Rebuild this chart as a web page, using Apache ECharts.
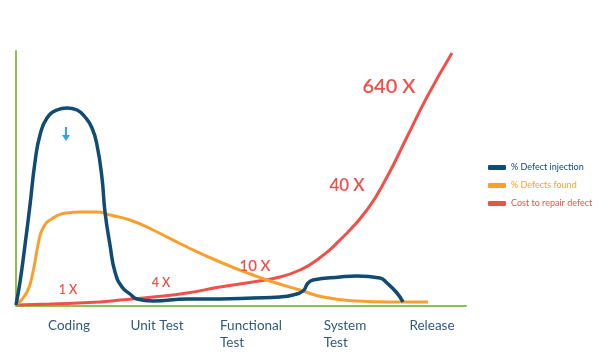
<!DOCTYPE html>
<html>
<head>
<meta charset="utf-8">
<script src="https://cdn.jsdelivr.net/npm/echarts@6/dist/echarts.min.js"></script>
<style>
  html, body { margin: 0; padding: 0; background: #fff; }
  #chart { width: 611px; height: 353px; }
</style>
</head>
<body>
<div id="chart"></div>
<script>
// 阶段名称和位置
var categories = ['Coding', 'Unit Test', 'Functional\nTest', 'System\nTest', 'Release'];
var categoryPos = [53, 141, 235, 329, 416];

// 曲线数据 [x, y]
var defectInjection = [
  [0, 1], [4, 24], [9, 61], [14, 101], [19, 144], [24, 171], [31, 188], [41, 196],
  [51, 198], [61, 196], [69, 189], [76, 178], [81, 161], [86, 128], [89, 94],
  [94, 61], [99, 34], [106, 19], [114, 12], [121, 7], [137, 5], [171, 7], [204, 7],
  [237, 8], [264, 9], [277, 11], [287, 15], [292, 23], [297, 26], [324, 29],
  [341, 30], [364, 28], [371, 23], [381, 13], [387, 4]
];
var defectsFound = [
  [0, 1], [11, 14], [17, 34], [22, 61], [27, 78], [37, 88], [51, 93], [64, 94],
  [81, 94], [94, 91], [114, 86], [137, 76], [171, 59], [204, 44], [237, 31],
  [257, 24], [284, 16], [307, 9], [341, 5], [374, 4], [412, 4]
];
var repairCost = [
  [0, 1], [34, 2], [84, 4], [104, 6], [137, 9], [171, 13], [204, 19], [237, 24],
  [264, 29], [284, 36], [301, 46], [324, 66], [351, 96],
  [371, 129], [391, 169], [411, 209], [436, 253]
];

// 成本标注
var costLabels = ['1 X', '4 X', '10 X', '40 X', '640 X'];
var costLabelPos = [[52, 16], [145, 23], [239, 40], [331, 120], [373, 219]];
var costLabelSize = [12.5, 12.5, 15, 17, 20];
var arrowPos = [50, 172];

var seriesNames = ['% Defect injection', '% Defects found', 'Cost to repair defect'];
var colors = ['#0f4b73', '#f7a030', '#f0504a'];

var myChart = echarts.init(document.getElementById('chart'));

var costMarks = [];
for (var i = 0; i < costLabels.length; i++) {
  costMarks.push({
    name: costLabels[i],
    coord: costLabelPos[i],
    label: { fontSize: costLabelSize[i] }
  });
}

var posToName = {};
for (var j = 0; j < categoryPos.length; j++) {
  posToName[categoryPos[j]] = categories[j];
}

var option = {
  animation: false,
  textStyle: { fontFamily: 'Lato, "Open Sans", sans-serif' },
  grid: { left: 16, right: 145, top: 51, bottom: 47 },
  legend: {
    orient: 'vertical',
    left: 483,
    top: 158,
    itemWidth: 18,
    itemHeight: 5,
    itemGap: 9,
    icon: 'roundRect',
    textStyle: { fontSize: 9 },
    data: seriesNames.map(function (n, k) {
      return { name: n, textStyle: { color: colors[k] } };
    })
  },
  xAxis: {
    type: 'value',
    min: 0,
    max: 450,
    splitLine: { show: false },
    axisTick: { show: false },
    axisLine: { lineStyle: { color: '#8cc152', width: 2 } },
    axisLabel: {
      customValues: categoryPos,
      margin: 11,
      formatter: function (v) {
        var s = posToName[v] || '';
        return s.split('\n').map(function (t) { return '{l|' + t + '}'; }).join('\n');
      },
      rich: {
        l: { align: 'left', color: '#34597a', fontSize: 13.5, lineHeight: 17 }
      }
    }
  },
  yAxis: {
    type: 'value',
    min: 0,
    max: 255,
    splitLine: { show: false },
    axisTick: { show: false },
    axisLabel: { show: false },
    axisLine: { show: true, lineStyle: { color: '#8cc152', width: 2 } }
  },
  series: [
    {
      name: seriesNames[0],
      type: 'line',
      data: defectInjection,
      smooth: true,
      showSymbol: false,
      lineStyle: { color: colors[0], width: 3.5 },
      itemStyle: { color: colors[0] },
      z: 3,
      markPoint: {
        symbol: 'path://M3,0 L5,0 L5,8 L8,8 L4,14 L0,8 L3,8 Z',
        symbolSize: [8, 14],
        itemStyle: { color: '#2aa8e2' },
        label: { show: false },
        data: [{ coord: arrowPos }]
      }
    },
    {
      name: seriesNames[1],
      type: 'line',
      data: defectsFound,
      smooth: true,
      showSymbol: false,
      lineStyle: { color: colors[1], width: 3 },
      itemStyle: { color: colors[1] },
      z: 2
    },
    {
      name: seriesNames[2],
      type: 'line',
      data: repairCost,
      smooth: true,
      showSymbol: false,
      lineStyle: { color: colors[2], width: 3 },
      itemStyle: { color: colors[2] },
      z: 1,
      markPoint: {
        symbol: 'circle',
        symbolSize: 0,
        label: {
          show: true,
          position: 'inside',
          color: colors[2],
          fontWeight: 600,
          formatter: function (p) { return p.name; }
        },
        data: costMarks
      }
    }
  ]
};

myChart.setOption(option);
</script>
</body>
</html>
